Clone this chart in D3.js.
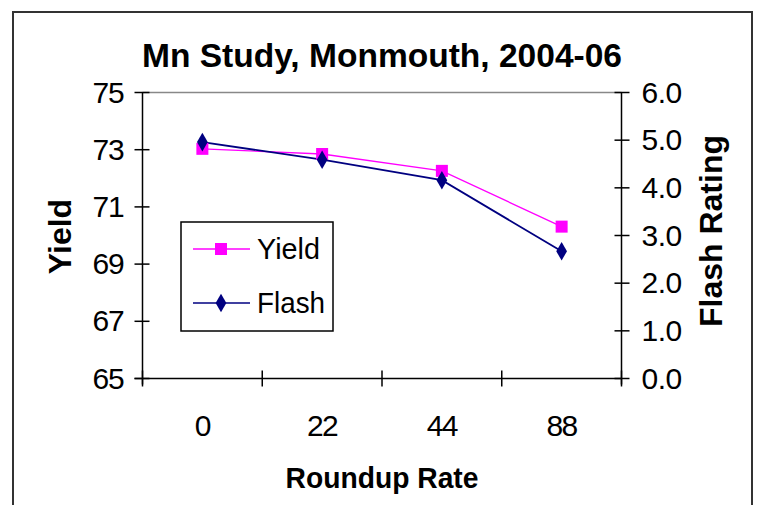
<!DOCTYPE html>
<html><head><meta charset="utf-8">
<script src="https://cdn.jsdelivr.net/npm/d3@7/dist/d3.min.js"></script>
<style>body{margin:0;background:#fff}text{font-family:"Liberation Sans",Arial,sans-serif}</style>
</head><body><svg id="c" width="763" height="505"></svg>
<script>
const categories = ["0", "22", "44", "88"];
const yieldValues = [73.03, 72.85, 72.26, 70.31];
const flashValues = [4.96, 4.59, 4.16, 2.67];
const yieldTicks = [65, 67, 69, 71, 73, 75];
const flashTicks = [0, 1, 2, 3, 4, 5, 6];
const title = "Mn Study, Monmouth, 2004-06";

const svg = d3.select("#c");
const L = 142.5, R = 621.5, T = 92.5, B = 378.5;

svg.append("rect").attr("x", 13).attr("y", 12).attr("width", 739).attr("height", 520)
  .attr("fill", "#fff").attr("stroke", "#333").attr("stroke-width", 2);

const x = d3.scaleBand().domain(categories).range([L, R]).padding(0);
const yL = d3.scaleLinear().domain([65, 75]).range([B, T]);
const yR = d3.scaleLinear().domain([0, 6]).range([B, T]);
const cx = d => x(d) + x.bandwidth() / 2;

svg.append("line").attr("x1", L).attr("x2", R).attr("y1", T).attr("y2", T)
  .attr("stroke", "#888").attr("stroke-width", 1.5);

// left axis
const gl = svg.append("g").attr("transform", `translate(${L},0)`);
gl.append("line").attr("y1", T).attr("y2", B + 6).attr("stroke", "#000").attr("stroke-width", 1.5);
gl.selectAll("line.t").data(yieldTicks).join("line").attr("class", "t")
  .attr("x1", -8).attr("x2", 7).attr("y1", d => yL(d)).attr("y2", d => yL(d)).attr("stroke", "#000").attr("stroke-width", 1.5);
gl.selectAll("text").data(yieldTicks).join("text")
  .attr("x", -19).attr("y", d => yL(d) + 10).attr("text-anchor", "end")
  .attr("font-size", 30).attr("letter-spacing", -1.2).text(d => d);

// right axis
const gr = svg.append("g").attr("transform", `translate(${R},0)`);
gr.append("line").attr("y1", T).attr("y2", B + 6).attr("stroke", "#000").attr("stroke-width", 1.5);
gr.selectAll("line.t").data(flashTicks).join("line").attr("class", "t")
  .attr("x1", -7).attr("x2", 8).attr("y1", d => yR(d)).attr("y2", d => yR(d)).attr("stroke", "#000").attr("stroke-width", 1.5);
gr.selectAll("text").data(flashTicks).join("text")
  .attr("x", 20).attr("y", d => yR(d) + 10).attr("text-anchor", "start")
  .attr("font-size", 30).attr("letter-spacing", -0.5).text(d => d3.format(".1f")(d));

// bottom axis
const gb = svg.append("g").attr("transform", `translate(0,${B})`);
gb.append("line").attr("x1", L - 8).attr("x2", R).attr("stroke", "#000").attr("stroke-width", 1.5);
const bounds = categories.map(c => x(c)).concat([R]);
gb.selectAll("line.t").data(bounds).join("line").attr("class", "t")
  .attr("x1", d => d).attr("x2", d => d).attr("y1", -8).attr("y2", 8).attr("stroke", "#000").attr("stroke-width", 1.5);
gb.selectAll("text").data(categories).join("text")
  .attr("x", d => cx(d)).attr("y", 57).attr("text-anchor", "middle")
  .attr("font-size", 30).attr("letter-spacing", -1.5).text(d => d);

// titles
svg.append("text").attr("x", 382).attr("y", 67).attr("text-anchor", "middle")
  .attr("font-size", 34).attr("font-weight", "bold")
  .attr("textLength", 480).attr("lengthAdjust", "spacingAndGlyphs").text(title);
svg.append("text").attr("x", 382).attr("y", 488).attr("text-anchor", "middle")
  .attr("font-size", 29).attr("font-weight", "bold")
  .attr("textLength", 193).attr("lengthAdjust", "spacingAndGlyphs").text("Roundup Rate");
svg.append("text").attr("transform", "translate(71,236.5) rotate(-90)").attr("text-anchor", "middle")
  .attr("font-size", 32).attr("font-weight", "bold").text("Yield");
svg.append("text").attr("transform", "translate(722,231) rotate(-90)").attr("text-anchor", "middle")
  .attr("font-size", 32).attr("font-weight", "bold").text("Flash Rating");

// series
const lineY = d3.line().x((d, i) => cx(categories[i])).y(d => yL(d));
const lineF = d3.line().x((d, i) => cx(categories[i])).y(d => yR(d));
svg.append("path").attr("d", lineY(yieldValues)).attr("fill", "none").attr("stroke", "#ff00ff").attr("stroke-width", 1.3);
svg.append("path").attr("d", lineF(flashValues)).attr("fill", "none").attr("stroke", "#000080").attr("stroke-width", 1.8);
const sq = d3.symbol().type(d3.symbolSquare).size(144);
const dm = d3.symbol().type(d3.symbolDiamond).size(100);
svg.selectAll("path.ym").data(yieldValues).join("path").attr("class", "ym")
  .attr("transform", (d, i) => `translate(${cx(categories[i])},${yL(d)})`).attr("d", sq).attr("fill", "#ff00ff");
svg.selectAll("path.fm").data(flashValues).join("path").attr("class", "fm")
  .attr("transform", (d, i) => `translate(${cx(categories[i])},${yR(d)})`).attr("d", dm).attr("fill", "#000080");

// legend
const lg = svg.append("g");
lg.append("rect").attr("x", 181).attr("y", 222).attr("width", 152).attr("height", 109)
  .attr("fill", "#fff").attr("stroke", "#000").attr("stroke-width", 1.5);
const items = [{name: "Yield", color: "#ff00ff", sym: sq, y: 249, w: 63}, {name: "Flash", color: "#000080", sym: dm, y: 303, w: 68}];
items.forEach(it => {
  lg.append("line").attr("x1", 193).attr("x2", 250).attr("y1", it.y).attr("y2", it.y).attr("stroke", it.color).attr("stroke-width", 1.5);
  lg.append("path").attr("transform", `translate(221,${it.y})`).attr("d", it.sym).attr("fill", it.color);
  lg.append("text").attr("x", 257).attr("y", it.y + 10).attr("font-size", 30)
    .attr("textLength", it.w).attr("lengthAdjust", "spacingAndGlyphs").text(it.name);
});
</script></body></html>
